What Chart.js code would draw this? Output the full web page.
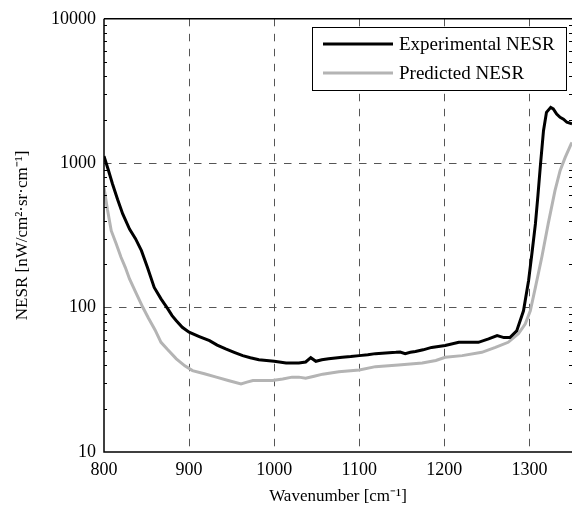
<!DOCTYPE html>
<html>
<head>
<meta charset="utf-8">
<script src="https://cdn.jsdelivr.net/npm/chart.js@4"></script>
<style>
  html, body { margin: 0; padding: 0; background: #fff; }
  #wrap { width: 573px; height: 510px; }
</style>
</head>
<body>
<div id="wrap"><canvas id="nesr"></canvas></div>
<script>
// Experimental NESR (black)
const expWavenumber = [800, 805, 810, 816, 822, 830, 837, 844, 851, 859, 867, 875, 880, 885, 892, 900, 912, 924, 933, 943, 953, 963, 972, 982, 991, 1000, 1014, 1029, 1037, 1043, 1049, 1056, 1064, 1072, 1080, 1090, 1100, 1110, 1119, 1131, 1143, 1148, 1154, 1160, 1166, 1175, 1185, 1201, 1217, 1230, 1240, 1252, 1262, 1270, 1277, 1285, 1293, 1299, 1303, 1307, 1310, 1313, 1316.5, 1320, 1325, 1328, 1332, 1336, 1340, 1344, 1350];
const expNesr = [1120, 900, 718, 560, 445, 350, 300, 248, 190, 138, 115, 98, 88, 81, 73, 67.5, 63, 59, 55, 51.8, 49, 46.5, 45, 43.6, 43, 42.5, 41.4, 41.4, 42, 45, 42.5, 43.5, 44.2, 44.8, 45.3, 45.8, 46.5, 47.2, 48, 48.5, 49, 49.3, 48, 49, 49.7, 51, 53, 54.6, 57.5, 57.5, 57.5, 60.7, 64, 62, 62, 69, 95, 154, 240, 380, 600, 987, 1680, 2250, 2435, 2380, 2190, 2080, 2020, 1920, 1870];

// Predicted NESR (grey)
const predWavenumber = [800, 804, 808.5, 814, 820, 825, 830, 838, 845.6, 852, 860, 867, 875, 885, 895, 904, 918, 932, 946, 961, 968, 975, 998, 1010, 1021, 1029, 1037, 1047, 1057, 1076, 1100, 1119, 1146, 1174, 1190, 1201, 1221, 1244, 1260, 1275, 1287, 1295, 1301, 1307, 1314.5, 1322, 1330, 1336, 1342, 1349, 1350];
const predNesr = [680, 480, 341, 280, 223, 190, 158, 125, 100.5, 85, 70, 57.5, 51, 44.2, 39.5, 36.6, 34.8, 33, 31.3, 29.6, 30.5, 31.3, 31.3, 32, 33, 33, 32.4, 33.5, 34.6, 36, 37, 39, 40, 41.4, 43, 45.3, 46.5, 49, 53, 57.5, 65.8, 77, 95, 138, 223, 380, 645, 888, 1097, 1359, 1390];

const xTicks = [800, 900, 1000, 1100, 1200, 1300];
const yTicks = [10, 100, 1000, 10000];
const seriesNames = ['Experimental NESR', 'Predicted NESR'];

const toPoints = (xs, ys) => xs.map((x, i) => ({ x: x, y: ys[i] }));

const FONT = 'Liberation Serif, Times New Roman, serif';

// axis box, minor log ticks and legend
const frame = {
    id: 'frame',
    afterDatasetsDraw(chart) {
        const { ctx, chartArea: a, scales } = chart;
        const y = scales.y;
        ctx.save();
        ctx.strokeStyle = '#000';
        ctx.lineWidth = 1;
        // minor ticks on left and right
        for (let d = 10; d < 10000; d *= 10) {
            for (let m = 2; m <= 9; m++) {
                const py = Math.round(y.getPixelForValue(d * m)) + 0.5;
                ctx.beginPath();
                ctx.moveTo(a.left, py); ctx.lineTo(a.left + 3, py);
                ctx.moveTo(a.right, py); ctx.lineTo(a.right - 3, py);
                ctx.stroke();
            }
        }
        // border
        ctx.lineWidth = 1.5;
        ctx.beginPath();
        ctx.moveTo(a.left, a.top); ctx.lineTo(a.right, a.top);
        ctx.moveTo(a.left, a.top); ctx.lineTo(a.left, a.bottom);
        ctx.lineTo(a.right, a.bottom);
        ctx.stroke();

        // legend
        const bx = 312.5, by = 27.5, bw = 254, bh = 63;
        ctx.fillStyle = '#fff';
        ctx.fillRect(bx, by, bw, bh);
        ctx.lineWidth = 1;
        ctx.strokeRect(bx, by, bw, bh);
        ctx.font = '19px ' + FONT;
        ctx.textBaseline = 'middle';
        chart.data.datasets.forEach((ds, i) => {
            const ly = 44 + i * 29;
            ctx.strokeStyle = ds.borderColor;
            ctx.lineWidth = 3;
            ctx.beginPath();
            ctx.moveTo(323, ly); ctx.lineTo(393, ly);
            ctx.stroke();
            ctx.fillStyle = '#000';
            ctx.fillText(ds.label, 399, ly + 1);
        });
        ctx.restore();
    }
};

new Chart(document.getElementById('nesr'), {
    type: 'line',
    data: {
        datasets: [
            {
                label: seriesNames[0],
                data: toPoints(expWavenumber, expNesr),
                borderColor: '#000000',
                borderWidth: 3,
                pointRadius: 0,
                tension: 0,
                order: 1
            },
            {
                label: seriesNames[1],
                data: toPoints(predWavenumber, predNesr),
                borderColor: '#b4b4b4',
                borderWidth: 3,
                pointRadius: 0,
                tension: 0,
                order: 2
            }
        ]
    },
    options: {
        responsive: true,
        maintainAspectRatio: false,
        animation: false,
        layout: { padding: { top: 17, right: 1, left: 0, bottom: 0 } },
        plugins: {
            legend: { display: false },
            tooltip: { enabled: false }
        },
        scales: {
            x: {
                type: 'linear',
                min: 800,
                max: 1350,
                afterBuildTicks: (s) => { s.ticks = xTicks.map(v => ({ value: v })); },
                afterFit: (s) => { s.height = 58; },
                ticks: {
                    color: '#000',
                    font: { family: FONT, size: 18 },
                    padding: 7,
                    maxRotation: 0,
                    callback: (v) => String(v)
                },
                grid: {
                    color: (c) => (c.tick && c.tick.value === 800 ? 'rgba(0,0,0,0)' : '#555'),
                    lineWidth: 1,
                    drawTicks: false
                },
                border: { display: false, dash: [7.5, 7.5] },
                title: {
                    display: true,
                    text: 'Wavenumber [cm⁻¹]',
                    color: '#000',
                    font: { family: FONT, size: 17 },
                    padding: { top: 0, bottom: 3 }
                }
            },
            y: {
                type: 'logarithmic',
                min: 10,
                max: 10000,
                afterBuildTicks: (s) => { s.ticks = yTicks.map(v => ({ value: v })); },
                afterFit: (s) => { s.width = 104; },
                ticks: {
                    color: '#000',
                    font: { family: FONT, size: 18 },
                    padding: 8,
                    callback: (v) => String(v)
                },
                grid: {
                    color: (c) => (c.tick && (c.tick.value === 10 || c.tick.value === 10000) ? 'rgba(0,0,0,0)' : '#555'),
                    lineWidth: 1,
                    drawTicks: false
                },
                border: { display: false, dash: [7.5, 7.5] },
                title: {
                    display: true,
                    text: 'NESR [nW/cm²·sr·cm⁻¹]',
                    color: '#000',
                    font: { family: FONT, size: 17 },
                    padding: { top: 12, bottom: 0 }
                }
            }
        }
    },
    plugins: [frame]
});
</script>
</body>
</html>
